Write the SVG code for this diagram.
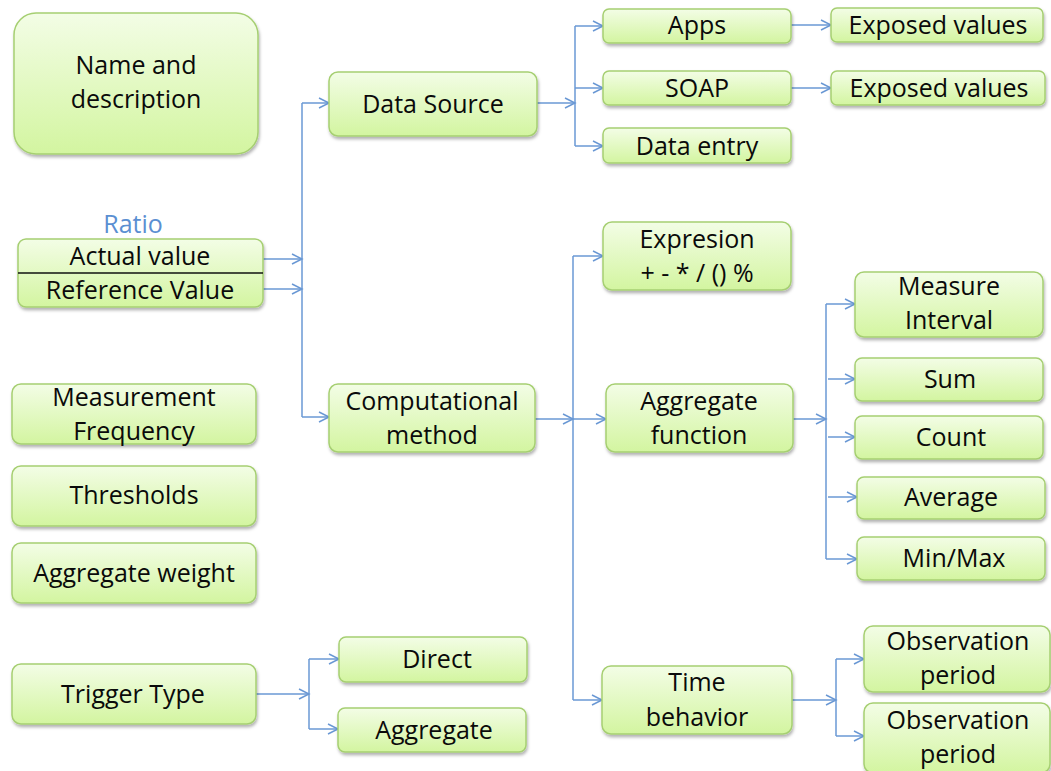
<svg xmlns="http://www.w3.org/2000/svg" width="1051" height="771" viewBox="0 0 1051 771">
  <defs>
    <linearGradient id="boxFill" x1="0" y1="0" x2="0" y2="1">
      <stop offset="0" stop-color="#f3fde6"/>
      <stop offset="1" stop-color="#d3f5a0"/>
    </linearGradient>
    <filter id="shadow" x="-10%" y="-20%" width="120%" height="150%">
      <feDropShadow dx="1" dy="2.5" stdDeviation="1.5" flood-color="#000" flood-opacity="0.3"/>
    </filter>
    <marker id="arrow" markerUnits="userSpaceOnUse" markerWidth="14" markerHeight="14" refX="11" refY="6" orient="auto">
      <path d="M1,1 L11,6 L1,11" fill="none" stroke="#6a98d4" stroke-width="1.5"/>
    </marker>
  </defs>
  <style>
    .box { fill: url(#boxFill); stroke: #a6cf72; stroke-width: 1.5; filter: url(#shadow); }
    .lbl { font-family: "Open Sans", "Liberation Sans", sans-serif; font-size: 25px; fill: #0a0a0a; text-anchor: middle; }
    .ratio { font-family: "Open Sans", "Liberation Sans", sans-serif; font-size: 25px; fill: #5b8fd2; text-anchor: middle; }
    .wire { fill: none; stroke: #6a98d4; stroke-width: 1.5; }
    .arr { fill: none; stroke: #6a98d4; stroke-width: 1.5; marker-end: url(#arrow); }
  </style>

  <rect width="1051" height="771" fill="#fff"/>

  <!-- connectors -->
  <g id="connectors">
    <!-- ratio to the two main branches -->
    <path class="arr" d="M263,259 H302"/>
    <path class="arr" d="M263,289 H302"/>
    <path class="wire" d="M302,103 V417"/>
    <path class="arr" d="M302,103 H329"/>
    <path class="arr" d="M302,417 H329"/>
    <!-- data source -->
    <path class="arr" d="M537,103 H575"/>
    <path class="wire" d="M575,26 V146"/>
    <path class="arr" d="M575,26 H603"/>
    <path class="arr" d="M575,88 H603"/>
    <path class="arr" d="M575,146 H603"/>
    <path class="arr" d="M791,25 H831"/>
    <path class="arr" d="M791,88 H831"/>
    <!-- computational method -->
    <path class="arr" d="M535,419 H573"/>
    <path class="wire" d="M573,256 V700"/>
    <path class="arr" d="M573,256 H603"/>
    <path class="arr" d="M573,419 H606"/>
    <path class="arr" d="M573,700 H602"/>
    <!-- aggregate function -->
    <path class="arr" d="M793,419 H826"/>
    <path class="wire" d="M826,304 V559"/>
    <path class="arr" d="M826,304 H855"/>
    <path class="arr" d="M828,379 H855"/>
    <path class="arr" d="M828,437 H855"/>
    <path class="arr" d="M828,497 H857"/>
    <path class="arr" d="M826,559 H857"/>
    <!-- time behavior -->
    <path class="arr" d="M792,700 H836"/>
    <path class="wire" d="M836,659 V736"/>
    <path class="arr" d="M836,659 H864"/>
    <path class="arr" d="M836,736 H864"/>
    <!-- trigger type -->
    <path class="arr" d="M256,694 H309"/>
    <path class="wire" d="M309,659 V729"/>
    <path class="arr" d="M309,659 H339"/>
    <path class="arr" d="M309,729 H338"/>
  </g>

  <g id="name-description">
    <rect class="box" x="14" y="13" width="244" height="141" rx="22"/>
    <text class="lbl" x="136" y="74">Name and</text>
    <text class="lbl" x="136" y="108">description</text>
  </g>

  <g id="ratio">
    <text class="ratio" x="133" y="233">Ratio</text>
    <rect class="box" x="18" y="239" width="245" height="68" rx="8"/>
    <line x1="18" y1="273" x2="263" y2="273" stroke="#111" stroke-width="1.5"/>
    <text class="lbl" x="140" y="265">Actual value</text>
    <text class="lbl" x="140" y="299">Reference Value</text>
  </g>

  <g id="data-source">
    <rect class="box" x="329" y="72" width="208" height="64" rx="9"/>
    <text class="lbl" x="433" y="113">Data Source</text>
  </g>

  <g id="apps">
    <rect class="box" x="603" y="9" width="188" height="34" rx="6"/>
    <text class="lbl" x="697" y="34">Apps</text>
  </g>

  <g id="soap">
    <rect class="box" x="603" y="71" width="188" height="34" rx="6"/>
    <text class="lbl" x="697" y="97">SOAP</text>
  </g>

  <g id="data-entry">
    <rect class="box" x="603" y="128" width="188" height="35" rx="6"/>
    <text class="lbl" x="697" y="155">Data entry</text>
  </g>

  <g id="exposed-values-apps">
    <rect class="box" x="831" y="8" width="212" height="34" rx="6"/>
    <text class="lbl" x="938" y="34">Exposed values</text>
  </g>

  <g id="exposed-values-soap">
    <rect class="box" x="831" y="71" width="214" height="34" rx="6"/>
    <text class="lbl" x="939" y="97">Exposed values</text>
  </g>

  <g id="expression">
    <rect class="box" x="603" y="222" width="188" height="68" rx="9"/>
    <text class="lbl" x="697" y="248">Expresion</text>
    <text class="lbl" x="697" y="282">+ - * / () %</text>
  </g>

  <g id="measurement-frequency">
    <rect class="box" x="12" y="384" width="244" height="60" rx="9"/>
    <text class="lbl" x="134" y="406">Measurement</text>
    <text class="lbl" x="134" y="440">Frequency</text>
  </g>

  <g id="computational-method">
    <rect class="box" x="329" y="384" width="206" height="68" rx="9"/>
    <text class="lbl" x="432" y="410">Computational</text>
    <text class="lbl" x="432" y="444">method</text>
  </g>

  <g id="aggregate-function">
    <rect class="box" x="606" y="384" width="187" height="68" rx="9"/>
    <text class="lbl" x="699" y="410">Aggregate</text>
    <text class="lbl" x="699" y="444">function</text>
  </g>

  <g id="measure-interval">
    <rect class="box" x="855" y="272" width="188" height="65" rx="9"/>
    <text class="lbl" x="949" y="295">Measure</text>
    <text class="lbl" x="949" y="329">Interval</text>
  </g>

  <g id="sum">
    <rect class="box" x="855" y="358" width="188" height="43" rx="7"/>
    <text class="lbl" x="950" y="388">Sum</text>
  </g>

  <g id="count">
    <rect class="box" x="855" y="416" width="188" height="43" rx="7"/>
    <text class="lbl" x="951" y="446">Count</text>
  </g>

  <g id="average">
    <rect class="box" x="857" y="477" width="188" height="42" rx="7"/>
    <text class="lbl" x="951" y="506">Average</text>
  </g>

  <g id="min-max">
    <rect class="box" x="857" y="537" width="188" height="43" rx="7"/>
    <text class="lbl" x="954" y="567">Min/Max</text>
  </g>

  <g id="thresholds">
    <rect class="box" x="12" y="466" width="244" height="60" rx="9"/>
    <text class="lbl" x="134" y="504">Thresholds</text>
  </g>

  <g id="aggregate-weight">
    <rect class="box" x="12" y="543" width="244" height="60" rx="9"/>
    <text class="lbl" x="134" y="582">Aggregate weight</text>
  </g>

  <g id="trigger-type">
    <rect class="box" x="12" y="664" width="244" height="60" rx="9"/>
    <text class="lbl" x="133" y="703">Trigger Type</text>
  </g>

  <g id="direct">
    <rect class="box" x="339" y="637" width="188" height="45" rx="7"/>
    <text class="lbl" x="437" y="668">Direct</text>
  </g>

  <g id="aggregate">
    <rect class="box" x="338" y="708" width="188" height="44" rx="7"/>
    <text class="lbl" x="434" y="739">Aggregate</text>
  </g>

  <g id="time-behavior">
    <rect class="box" x="602" y="666" width="190" height="68" rx="9"/>
    <text class="lbl" x="697" y="691">Time</text>
    <text class="lbl" x="697" y="726">behavior</text>
  </g>

  <g id="observation-period-1">
    <rect class="box" x="864" y="626" width="186" height="66" rx="9"/>
    <text class="lbl" x="958" y="650">Observation</text>
    <text class="lbl" x="958" y="684">period</text>
  </g>

  <g id="observation-period-2">
    <rect class="box" x="864" y="703" width="186" height="70" rx="9"/>
    <text class="lbl" x="958" y="729">Observation</text>
    <text class="lbl" x="958" y="763">period</text>
  </g>
</svg>
